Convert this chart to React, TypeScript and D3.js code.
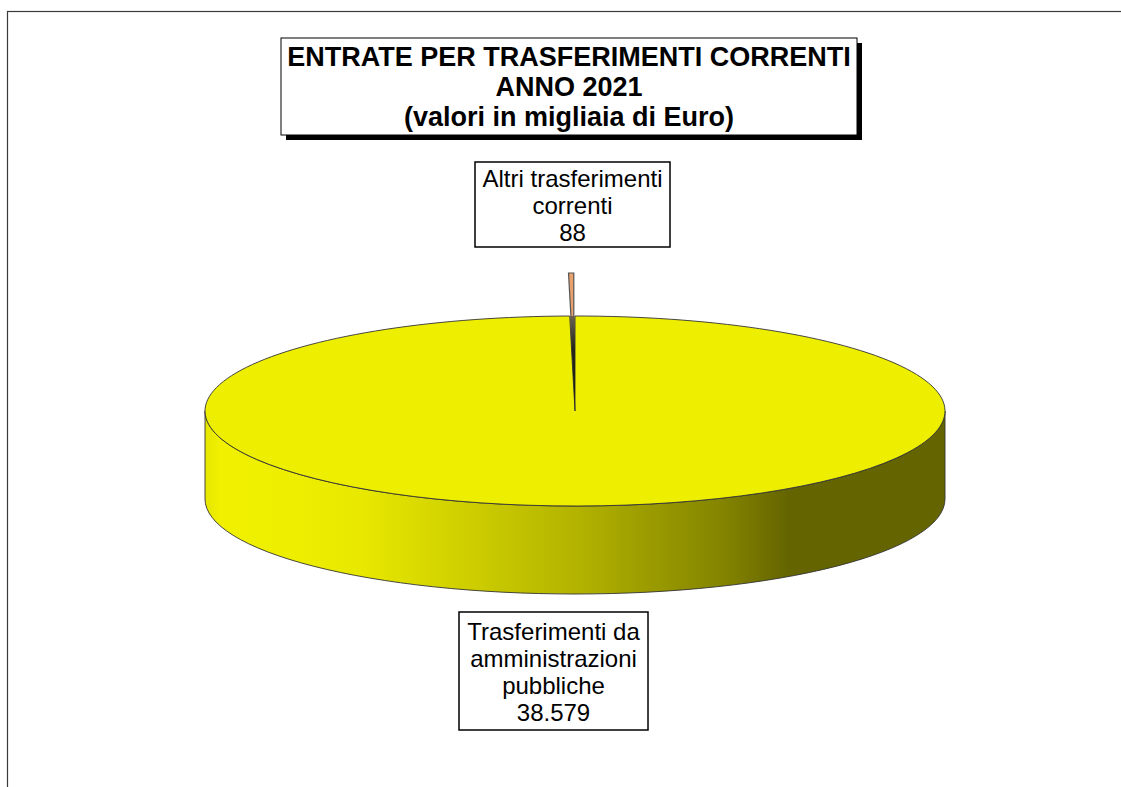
import React from 'react';
import * as d3 from 'd3';

const categories = ['Trasferimenti da amministrazioni pubbliche', 'Altri trasferimenti correnti'];
const values = [38579, 88];
const titleLines = ['ENTRATE PER TRASFERIMENTI CORRENTI', 'ANNO 2021', '(valori in migliaia di Euro)'];
const bigLabelLines = ['Trasferimenti da', 'amministrazioni', 'pubbliche', '38.579'];
const smallLabelLines = ['Altri trasferimenti', 'correnti', '88'];

const WIDTH = 1121;
const HEIGHT = 787;
const FONT = '"Liberation Sans", Arial, sans-serif';

// pie geometry, the tilt is done with a scale on the group
const cx = 575;
const cy = 411;
const rx = 370;
const ry = 95;
const depth = 88;
const explode = 43; // px upward on screen

const wallStops: [number, string][] = [
  [0, '#e6e600'],
  [0.02, '#f0f000'],
  [0.12, '#eeee00'],
  [0.21, '#e8e800'],
  [0.345, '#d0d000'],
  [0.507, '#b2b200'],
  [0.595, '#9c9c00'],
  [0.696, '#858500'],
  [0.79, '#646400'],
  [1, '#646400'],
];

const TextBox = ({x, y, w, h, lines, size, lineH, bold, shadow, dy = 0}: any) => (
  <g>
    {shadow && <rect x={x + 5} y={y + 5} width={w} height={h} fill="#000" />}
    <rect x={x} y={y} width={w} height={h} fill="#fff" stroke="#000" strokeWidth={shadow ? 1 : 1.5} />
    {lines.map((l: string, i: number) => (
      <text
        key={l}
        x={x + w / 2}
        y={y + (h - lineH * lines.length) / 2 + lineH * i + lineH * 0.79 + dy}
        textAnchor="middle"
        fontFamily={FONT}
        fontSize={size}
        fontWeight={bold ? 'bold' : 'normal'}
        fill="#000"
      >
        {l}
      </text>
    ))}
  </g>
);

const App = () => {
  const slices = d3.pie<number>().sort(null)(values);
  const arc = d3.arc<d3.PieArcDatum<number>>().innerRadius(0).outerRadius(rx);

  const tilt = `translate(${cx},${cy}) scale(1,${ry / rx})`;
  const small = slices[1];
  const mid = (small.startAngle + small.endAngle) / 2;
  const k = explode / ry; // share of the radius the slice is pulled out by
  const smallTilt = `translate(${cx + rx * k * Math.sin(mid)},${cy - ry * k * Math.cos(mid)}) scale(1,${ry / rx})`;

  const wallPath = `M${cx - rx},${cy}A${rx},${ry} 0 0 0 ${cx + rx},${cy}L${cx + rx},${cy + depth}A${rx},${ry} 0 0 1 ${cx - rx},${cy + depth}Z`;

  return (
    <svg width={WIDTH} height={HEIGHT} style={{position: 'absolute', left: 0, top: 0, display: 'block'}}>
      <defs>
        <linearGradient id="wall" x1="0" x2="1" y1="0" y2="0">
          {wallStops.map(([o, c]) => (
            <stop key={o} offset={o} stopColor={c} />
          ))}
        </linearGradient>
        <linearGradient id="gap" x1="0" x2="0" y1="0" y2="1">
          <stop offset={0} stopColor="#6a6250" />
          <stop offset={0.35} stopColor="#24241a" />
          <stop offset={1} stopColor="#1c1c10" />
        </linearGradient>
      </defs>

      <rect x={7.5} y={11.5} width={WIDTH + 20} height={HEIGHT + 20} fill="#fff" stroke="#3a3a3a" strokeWidth={1.2} />

      <path d={wallPath} fill="url(#wall)" stroke="#333" strokeWidth={0.9} />

      {/* small slice, pulled out behind the big one */}
      <path
        d={arc(small) as string}
        transform={smallTilt}
        fill="#e8a06c"
        stroke="#555"
        strokeWidth={1.2}
        vectorEffect="non-scaling-stroke"
      />
      <path
        d={arc(slices[0]) as string}
        transform={tilt}
        fill="#eeee00"
        stroke="#333"
        strokeWidth={0.9}
        vectorEffect="non-scaling-stroke"
      />
      {/* the gap it leaves shows the dark inner walls */}
      <path d={arc(small) as string} transform={tilt} fill="url(#gap)" />

      <TextBox x={281} y={38} w={576} h={97} lines={titleLines} size={27} lineH={30} bold shadow dy={1} />
      <TextBox x={475} y={162} w={195} h={85} lines={smallLabelLines} size={24} lineH={27} dy={1.5} />
      <TextBox x={459} y={612} w={189} h={118} lines={bigLabelLines} size={24} lineH={27} dy={2} />
    </svg>
  );
};

export default App;
